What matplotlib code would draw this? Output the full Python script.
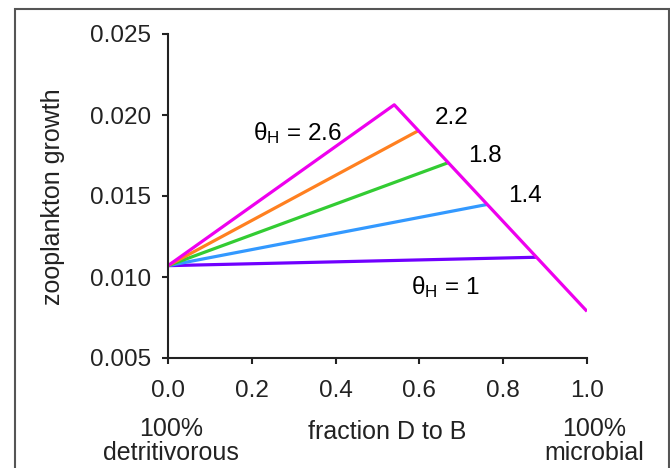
import matplotlib.pyplot as plt
from matplotlib.patches import Rectangle

plt.rcParams['font.family'] = ['Liberation Sans', 'DejaVu Sans']
plt.rcParams['mathtext.fontset'] = 'custom'
plt.rcParams['mathtext.rm'] = 'Liberation Sans'
plt.rcParams['mathtext.it'] = 'Liberation Sans'

# common starting point (100% detritivorous)
x_start = 0.0
y_start = 0.0107

# theta_H curves: end points on the envelope
theta = [1.0, 1.4, 1.8, 2.2]
x_end = [0.88, 0.762, 0.668, 0.596]
y_end = [0.01122, 0.01448, 0.01705, 0.01901]
colors = ['#7000ff', '#3399ff', '#33cc33', '#ff8020']

# theta_H = 2.6 line plus the descending envelope
env_x = [0.0, 0.54, 1.0]
env_y = [0.0107, 0.02063, 0.00788]

fig = plt.figure(figsize=(6.7, 4.68), dpi=100)
ax = fig.add_axes([168/670, 1-358/468, (587-168)/670, (358-34)/468])

for xe, ye, c in zip(x_end, y_end, colors):
    ax.plot([x_start, xe], [y_start, ye], color=c, lw=2.3, solid_capstyle='butt')
ax.plot(env_x, env_y, color='#ee00ee', lw=2.3, solid_capstyle='butt')

ax.set_xlim(0, 1.0)
ax.set_ylim(0.005, 0.025)
ax.set_xticks([0, 0.2, 0.4, 0.6, 0.8, 1.0])
ax.set_xticklabels(['0.0', '0.2', '0.4', '0.6', '0.8', '1.0'])
ax.set_yticks([0.005, 0.010, 0.015, 0.020, 0.025])
ax.set_yticklabels(['0.005', '0.010', '0.015', '0.020', '0.025'])
ax.spines['top'].set_visible(False)
ax.spines['right'].set_visible(False)
for s in ['left', 'bottom']:
    ax.spines[s].set_linewidth(1.5)
    ax.spines[s].set_color('#222222')
ax.tick_params(axis='both', direction='out', length=4, width=1.5,
               labelsize=17.5, colors='#222222')
ax.tick_params(axis='x', pad=12)
ax.tick_params(axis='y', pad=8)

ax.text(0.31, 0.0189, r'$\mathrm{\theta_H}$ = 2.6', fontsize=17.5, ha='center', va='center')
ax.text(0.678, 0.0198, '2.2', fontsize=17.5, ha='center', va='center')
ax.text(0.757, 0.01747, '1.8', fontsize=17.5, ha='center', va='center')
ax.text(0.851, 0.0150, '1.4', fontsize=17.5, ha='center', va='center')
ax.text(0.662, 0.00938, r'$\mathrm{\theta_H}$ = 1', fontsize=17.5, ha='center', va='center')

fig.text(53/670, 1-197/468, 'zooplankton growth', rotation=90, fontsize=18,
         ha='center', va='center', color='#222222')
fig.text(171/670, 1-441/468, '100%\ndetritivorous', fontsize=18, ha='center',
         va='center', linespacing=1.05, color='#222222')
fig.text(387/670, 1-432/468, 'fraction D to B', fontsize=18, ha='center',
         va='center', color='#222222')
fig.text(594/670, 1-441/468, '100%\nmicrobial', fontsize=18, ha='center',
         va='center', linespacing=1.05, color='#222222')

# grey outer frame
fig.patches.append(Rectangle((15/670, -0.1), (668.5-15)/670, 1.1 - 9/468,
                             transform=fig.transFigure, fill=False,
                             edgecolor='#555555', lw=1.5))

fig.savefig('out.png', dpi=100)
